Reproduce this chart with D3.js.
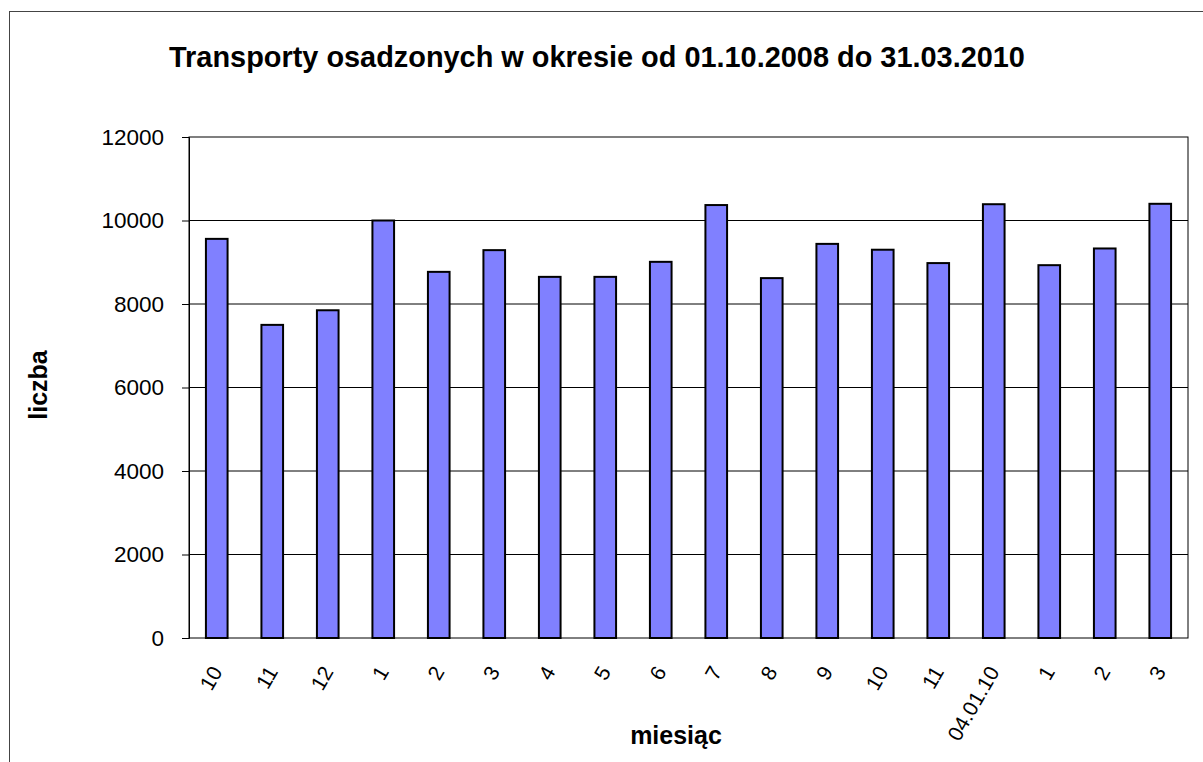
<!DOCTYPE html>
<html>
<head>
<meta charset="utf-8">
<script src="https://cdn.jsdelivr.net/npm/d3@7"></script>
<style>
  html, body { margin: 0; padding: 0; background: #fff; }
  svg { display: block; }
  text { font-family: "Liberation Sans", Arial, sans-serif; fill: #000; }
</style>
</head>
<body>
<svg id="chart" width="1203" height="762"></svg>
<script>
const title = "Transporty osadzonych w okresie od 01.10.2008 do 31.03.2010";
const xTitle = "miesiąc";
const yTitle = "liczba";
const categories = ["10","11","12","1","2","3","4","5","6","7","8","9","10","11","04.01.10","1","2","3"];
const values = [9560, 7500, 7850, 10000, 8770, 9290, 8650, 8650, 9010, 10370, 8620, 9440, 9300, 8980, 10390, 8930, 9330, 10400];
const yTicks = [0, 2000, 4000, 6000, 8000, 10000, 12000];

const svg = d3.select("#chart");
const plot = { left: 189, right: 1188, top: 137, bottom: 638 };

// outer chart border
svg.append("rect")
  .attr("x", 9.5).attr("y", 11.5)
  .attr("width", 1300).attr("height", 900)
  .attr("fill", "none").attr("stroke", "#444").attr("stroke-width", 1);

const x = d3.scaleBand()
  .domain(d3.range(categories.length))
  .range([plot.left, plot.right])
  .paddingInner(0.61).paddingOuter(0.305);

const y = d3.scaleLinear().domain([0, 12000]).range([plot.bottom, plot.top]);

// gridlines
svg.append("g")
  .selectAll("line")
  .data(yTicks.filter(d => d > 0 && d < 12000))
  .join("line")
  .attr("x1", plot.left).attr("x2", plot.right)
  .attr("y1", d => y(d)).attr("y2", d => y(d))
  .attr("stroke", "#000").attr("stroke-width", 1);

// plot border
svg.append("rect")
  .attr("x", plot.left).attr("y", plot.top)
  .attr("width", plot.right - plot.left).attr("height", plot.bottom - plot.top)
  .attr("fill", "none").attr("stroke", "#000").attr("stroke-width", 1);

// bars
svg.append("g")
  .selectAll("rect")
  .data(values)
  .join("rect")
  .attr("x", (d, i) => x(i))
  .attr("width", x.bandwidth())
  .attr("y", d => y(d))
  .attr("height", d => y(0) - y(d))
  .attr("fill", "#8080FF")
  .attr("stroke", "#000")
  .attr("stroke-width", 2);

// y axis
const yAxis = d3.axisLeft(y).tickValues(yTicks).tickSize(7).tickPadding(18).tickFormat(d3.format("d"));
const ga = svg.append("g").attr("transform", `translate(${plot.left},0)`).call(yAxis);
ga.select(".domain").attr("stroke", "#000");
ga.selectAll(".tick line").attr("stroke", "#000");
ga.selectAll(".tick text")
  .attr("font-size", 22.5)
  .attr("font-family", "Liberation Sans, Arial, sans-serif")
  .attr("fill", "#000");

// x axis labels
const xAxis = d3.axisBottom(x).tickSize(0).tickFormat(i => categories[i]);
const gx = svg.append("g").attr("transform", `translate(0,${plot.bottom})`).call(xAxis);
gx.select(".domain").remove();
gx.selectAll(".tick text")
  .attr("font-size", 21)
  .attr("font-family", "Liberation Sans, Arial, sans-serif")
  .attr("fill", "#000")
  .attr("text-anchor", "end")
  .attr("x", 0).attr("y", 0)
  .attr("dy", "0.35em")
  .attr("transform", "translate(0,30) rotate(-60)");

// title
svg.append("text")
  .attr("x", 597).attr("y", 67)
  .attr("text-anchor", "middle")
  .attr("font-size", 28.9).attr("font-weight", "bold")
  .text(title);

// axis titles
svg.append("text")
  .attr("x", 676).attr("y", 744)
  .attr("text-anchor", "middle")
  .attr("font-size", 25).attr("font-weight", "bold")
  .text(xTitle);

svg.append("text")
  .attr("transform", "translate(47,385) rotate(-90)")
  .attr("text-anchor", "middle")
  .attr("font-size", 25).attr("font-weight", "bold")
  .text(yTitle);
</script>
</body>
</html>
